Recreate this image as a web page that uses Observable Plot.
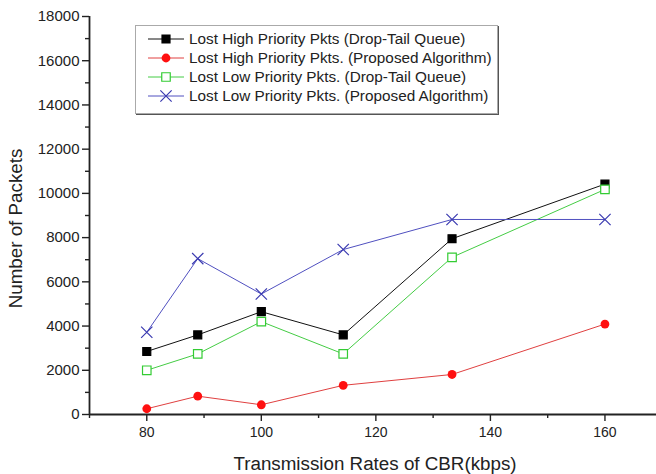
<!DOCTYPE html>
<html><head><meta charset="utf-8">
<script src="https://cdn.jsdelivr.net/npm/d3@7"></script>
<script src="https://cdn.jsdelivr.net/npm/@observablehq/plot@0.6"></script>
<style>
body{margin:0;background:#fff;font-family:"Liberation Sans",Arial,sans-serif}
#wrap{position:relative;width:656px;height:474px;overflow:hidden}
#legend{position:absolute;left:135px;top:25px;width:363px;height:89px;border:1px solid #aaa;box-shadow:1px 1px 0 #555;background:#fff;box-sizing:border-box;padding-top:3px}
.row{display:flex;align-items:center;height:19px;font-size:15.3px;color:#222;white-space:nowrap}
.row svg{margin-left:12px;margin-right:5px}
</style></head>
<body><div id="wrap"><div id="chart"></div><div id="legend"></div></div>
<script>
const xs = [80, 88.9, 100, 114.3, 133.3, 160];
const highDropTail = [2850, 3600, 4650, 3600, 7950, 10420];
const highProposed = [260, 830, 440, 1320, 1810, 4090];
const lowDropTail = [2000, 2740, 4200, 2740, 7110, 10180];
const lowProposed = [3720, 7050, 5450, 7460, 8820, 8820];
const seriesNames = [
  "Lost High Priority Pkts (Drop-Tail Queue)",
  "Lost High Priority Pkts. (Proposed Algorithm)",
  "Lost Low Priority Pkts. (Drop-Tail Queue)",
  "Lost Low Priority Pkts. (Proposed Algorithm)"
];
const seriesValues = [highDropTail, highProposed, lowDropTail, lowProposed];
const lineColors = ["#111111", "#e04040", "#44cc44", "#5050c0"];
const markColors = ["#000000", "#ff1010", "#33cc33", "#3a3ab0"];
const symbols = ["square", "circle", "square", "times"];
const fills = ["#000000", "#ff1010", "white", "none"];
const radii = [4.5, 4.4, 4.8, 5.2];
const xTicks = [80, 100, 120, 140, 160];
const xMinor = [70, 90, 110, 130, 150];
const yTicks = [0, 2000, 4000, 6000, 8000, 10000, 12000, 14000, 16000, 18000];
const yMinor = [1000, 3000, 5000, 7000, 9000, 11000, 13000, 15000, 17000];
const xLabel = "Transmission Rates of CBR(kbps)";
const yLabel = "Number of Packets";

const marks = [];
seriesValues.forEach((vals, i) => {
  const data = xs.map((x, j) => ({x, y: vals[j]}));
  marks.push(Plot.line(data, {x: "x", y: "y", stroke: lineColors[i], strokeWidth: 1}));
});
seriesValues.forEach((vals, i) => {
  const data = xs.map((x, j) => ({x, y: vals[j]}));
  marks.push(Plot.dot(data, {x: "x", y: "y", symbol: symbols[i], r: radii[i],
    fill: fills[i], stroke: markColors[i], strokeWidth: symbols[i] === "circle" ? 0 : 1.2}));
});

const chart = Plot.plot({
  width: 656, height: 474,
  marginLeft: 89, marginTop: 16, marginBottom: 60, marginRight: 0,
  x: {domain: [70, 169]},
  y: {domain: [0, 18000]},
  style: {fontFamily: "Liberation Sans, Arial, sans-serif", background: "white", color: "#222"},
  marks: [
    Plot.axisX({ticks: xTicks, tickSize: 7, tickPadding: 6, fontSize: 14, label: null, strokeWidth: 1.4}),
    Plot.axisX({ticks: xMinor, tickSize: 4, text: null, label: null, strokeWidth: 1.4}),
    Plot.axisY({ticks: yTicks, tickSize: 7, tickPadding: 3, fontSize: 15, label: null, tickFormat: d => String(d), strokeWidth: 1.4}),
    Plot.axisY({ticks: yMinor, tickSize: 4, text: null, label: null, strokeWidth: 1.4}),
    Plot.ruleY([0], {stroke: "#222", strokeWidth: 1.8}),
    Plot.ruleX([70], {stroke: "#222", strokeWidth: 1.8}),
    Plot.text([xLabel], {frameAnchor: "bottom", lineAnchor: "middle", dx: 2, dy: 49, fontSize: 18.8, fill: "#222"}),
    Plot.text([yLabel], {frameAnchor: "left", textAnchor: "middle", lineAnchor: "middle", rotate: -90, dx: -74, dy: 13, fontSize: 18.8, fill: "#222"}),
    ...marks
  ]
});
document.getElementById("chart").appendChild(chart);

const legend = document.getElementById("legend");
seriesNames.forEach((name, i) => {
  const row = document.createElement("div");
  row.className = "row";
  const svg = d3.create("svg").attr("width", 36).attr("height", 14);
  svg.append("line").attr("x1", 0).attr("x2", 36).attr("y1", 7).attr("y2", 7)
    .attr("stroke", lineColors[i]).attr("stroke-width", 1);
  const sym = {square: d3.symbolSquare, circle: d3.symbolCircle, times: d3.symbolTimes}[symbols[i]];
  const size = radii[i] * radii[i] * Math.PI;
  svg.append("path").attr("d", d3.symbol(sym, size)()).attr("transform", "translate(18,7)")
    .attr("fill", fills[i]).attr("stroke", markColors[i])
    .attr("stroke-width", symbols[i] === "circle" ? 0 : 1.2);
  row.appendChild(svg.node());
  const span = document.createElement("span");
  span.textContent = name;
  row.appendChild(span);
  legend.appendChild(row);
});
</script>
</body></html>
